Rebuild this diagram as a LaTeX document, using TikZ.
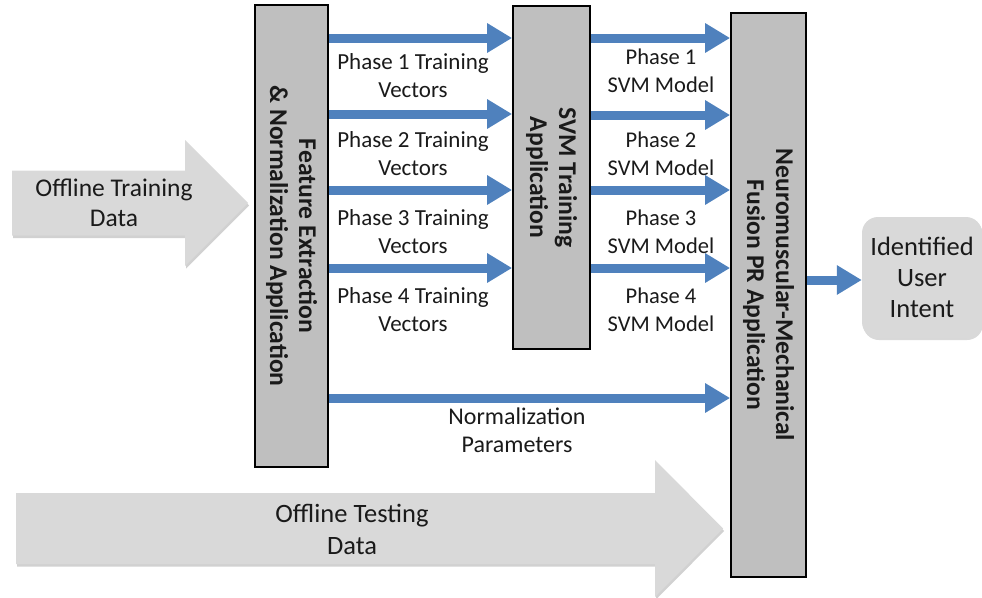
\documentclass[tikz,border=0pt]{standalone}
\usepackage{fontspec}
\setmainfont{Carlito}
\usetikzlibrary{arrows.meta,shadows}
\definecolor{arrblue}{HTML}{4F81BD}
\definecolor{boxgray}{HTML}{BFBFBF}
\definecolor{lightfill}{HTML}{D9D9D9}
\definecolor{txt}{HTML}{1A1A1A}
\begin{document}
\begin{tikzpicture}[x=1pt,y=-1pt,
 procbox/.style={draw=black, line width=1.8pt, fill=boxgray, inner sep=0pt},
 vlabel/.style={rotate=-90, align=center, font=\fontsize{25.6}{29}\selectfont\bfseries, text=txt},
 lbl/.style={align=center, font=\fontsize{23}{28}\selectfont, text=txt, inner sep=0pt},
 mlbl/.style={align=center, font=\fontsize{22.5}{28}\selectfont, text=txt, inner sep=0pt},
 biglbl/.style={align=center, font=\fontsize{25.5}{30}\selectfont, text=txt, inner sep=0pt},
 bluearrow/.style={draw=arrblue, line width=9pt, -{Triangle[length=25pt,width=28pt]}},
 grayarrow/.style={fill=lightfill, drop shadow={shadow xshift=1pt,shadow yshift=-2.5pt,opacity=0.3,fill=black!60}},
]
\useasboundingbox (0,0) rectangle (982,597);

% large grey block arrows
\path[grayarrow] (12,170.5) -- (185,170.5) -- (185,140) -- (248,203) -- (185,266) -- (185,235.5) -- (12,235.5) -- cycle;
\path[grayarrow] (16,493) -- (655,493) -- (655,460) -- (723,528.5) -- (655,597) -- (655,564) -- (16,564) -- cycle;
\node[biglbl] (otd) at (114,203) {Offline Training\\Data};
\node[biglbl, font=\fontsize{26.5}{32}\selectfont] (ote) at (352,529) {Offline Testing\\Data};

% process boxes
\node[procbox, minimum width=73pt, minimum height=462pt] (fe) at (291.5,236) {};
\node[procbox, minimum width=77pt, minimum height=343pt] (svm) at (551.5,177.5) {};
\node[procbox, minimum width=75pt, minimum height=564pt] (fus) at (768.5,295) {};
\node[vlabel] (fel) at (fe.center) {Feature Extraction\\\& Normalization Application};
\node[vlabel] (svml) at (svm.center) {SVM Training\\Application};
\node[vlabel] (fusl) at (fus.center) {Neuromuscular-Mechanical\\Fusion PR Application};

% output box
\node[fill=lightfill, rounded corners=16pt, minimum width=120pt, minimum height=121pt, align=center,
      font=\fontsize{26.5}{31}\selectfont, text=txt, inner sep=0pt,
      drop shadow={shadow xshift=1pt,shadow yshift=-2pt,opacity=0.25,fill=black!60}] (uid) at (922,277.5) {Identified\\User\\Intent};

% training vector arrows
\foreach \yy in {38,114,190,268}{
  \draw[bluearrow] (fe.east |- 0,\yy) -- (svm.west |- 0,\yy);
}
% svm model arrows
\foreach \yy in {38,115,190,268}{
  \draw[bluearrow] (svm.east |- 0,\yy) -- (fus.west |- 0,\yy);
}
% normalization arrow
\draw[bluearrow] (fe.east |- 0,398) -- (fus.west |- 0,398);
% output arrow
\draw[bluearrow] (fus.east |- 0,280) -- (uid.west |- 0,280);

% labels
\node[lbl] (p1t) at (413,76) {Phase 1 Training\\Vectors};
\node[lbl] (p2t) at (413,154) {Phase 2 Training\\Vectors};
\node[lbl] (p3t) at (413,232) {Phase 3 Training\\Vectors};
\node[lbl] (p4t) at (413,310) {Phase 4 Training\\Vectors};
\node[mlbl] (p1m) at (661,71) {Phase 1\\SVM Model};
\node[mlbl] (p2m) at (661,154) {Phase 2\\SVM Model};
\node[mlbl] (p3m) at (661,232) {Phase 3\\SVM Model};
\node[mlbl] (p4m) at (661,310) {Phase 4\\SVM Model};
\node[lbl, font=\fontsize{24}{28}\selectfont] (nrm) at (517,430) {Normalization\\Parameters};
\end{tikzpicture}
\end{document}
